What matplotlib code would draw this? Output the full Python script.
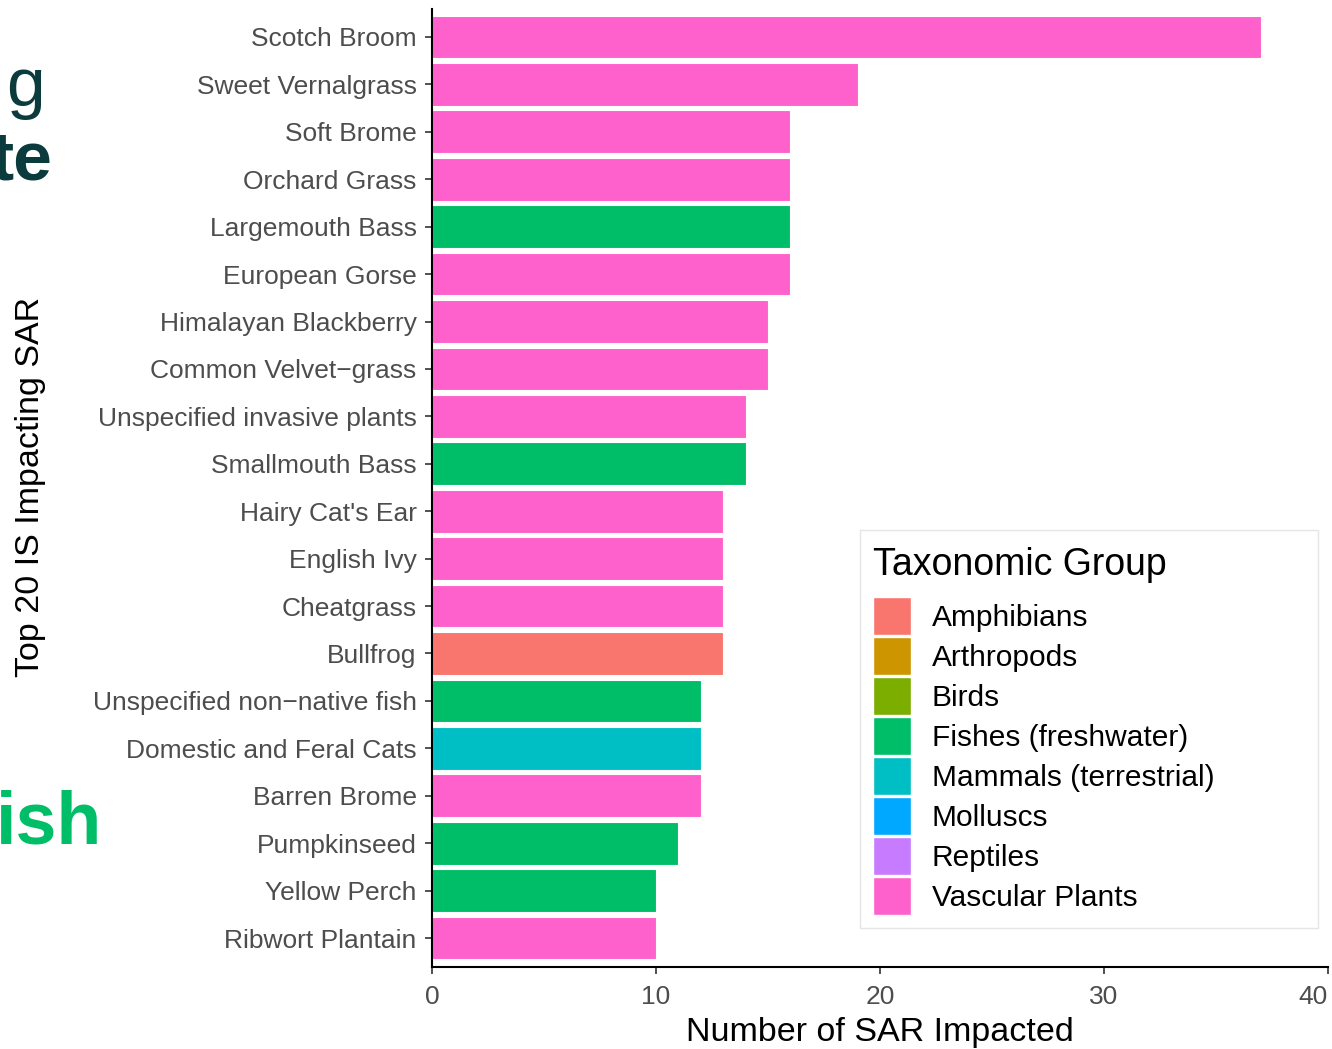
import matplotlib.pyplot as plt
from matplotlib.patches import Patch, Rectangle

plt.rcParams['font.family'] = ['Liberation Sans', 'DejaVu Sans']

# data, top to bottom
especies = ["Scotch Broom", "Sweet Vernalgrass", "Soft Brome", "Orchard Grass",
            "Largemouth Bass", "European Gorse", "Himalayan Blackberry",
            "Common Velvet\u2212grass", "Unspecified invasive plants", "Smallmouth Bass",
            "Hairy Cat's Ear", "English Ivy", "Cheatgrass", "Bullfrog",
            "Unspecified non\u2212native fish", "Domestic and Feral Cats", "Barren Brome",
            "Pumpkinseed", "Yellow Perch", "Ribwort Plantain"]
num_sar = [37, 19, 16, 16, 16, 16, 15, 15, 14, 14, 13, 13, 13, 13, 12, 12, 12, 11, 10, 10]
grupo = ["Vascular Plants", "Vascular Plants", "Vascular Plants", "Vascular Plants",
         "Fishes (freshwater)", "Vascular Plants", "Vascular Plants", "Vascular Plants",
         "Vascular Plants", "Fishes (freshwater)", "Vascular Plants", "Vascular Plants",
         "Vascular Plants", "Amphibians", "Fishes (freshwater)", "Mammals (terrestrial)",
         "Vascular Plants", "Fishes (freshwater)", "Fishes (freshwater)", "Vascular Plants"]

grupos = ["Amphibians", "Arthropods", "Birds", "Fishes (freshwater)",
          "Mammals (terrestrial)", "Molluscs", "Reptiles", "Vascular Plants"]
colores = ["#F8766D", "#CD9600", "#7CAE00", "#00BE67", "#00BFC4", "#00A9FF", "#C77CFF", "#FF61CC"]
col = dict(zip(grupos, colores))

W, H = 1332, 1049
fig = plt.figure(figsize=(W/100, H/100), dpi=100)
ax = fig.add_axes([432/W, 1-966.5/H, 896/W, 958/H])

n = len(especies)
ypos = [n-1-i for i in range(n)]
ax.barh(ypos, num_sar, height=0.9, color=[col[g] for g in grupo],
        edgecolor='white', linewidth=0.8)

ax.set_yticks(ypos)
ax.set_yticklabels(especies)
ax.set_ylim(-0.6, n-1+0.6)
ax.set_xlim(0, 40)
ax.set_xticks([0, 10, 20, 30, 40])
ax.tick_params(axis='both', labelsize=19, labelcolor='#4D4D4D', color='#333333',
               length=5, width=1.2)
ax.tick_params(axis='y', pad=6)
ax.tick_params(axis='x', pad=8)
for s in ['top', 'right']:
    ax.spines[s].set_visible(False)
for s in ['left', 'bottom']:
    ax.spines[s].set_linewidth(1.5)
ax.get_xticklabels()[-1].set_ha('right')
ax.set_xlabel("Number of SAR Impacted", fontsize=24.5, color='black', labelpad=6)
ax.set_ylabel("Top 20 IS Impacting SAR", fontsize=24.5, color='black')
ax.yaxis.set_label_coords(46/W, 1-487/H, transform=fig.transFigure)

# legend: frame drawn by hand, title as text, entries as figure legend
fig.patches.append(Rectangle((860/W, 1-928/H), 458/W, 398/H, transform=fig.transFigure,
                             facecolor='white', edgecolor='#E5E5E5', linewidth=1, zorder=3))
fig.text(873/W, 1-575/H, "Taxonomic Group", fontsize=27, color='black',
         ha='left', va='baseline', zorder=4)
handles = [Patch(facecolor=col[g], edgecolor='white', label=g) for g in grupos]
leg = fig.legend(handles=handles, loc='upper left',
                 bbox_to_anchor=(873/W, 1-597/H), bbox_transform=fig.transFigure,
                 fontsize=21.5, frameon=False,
                 handlelength=1.27, handleheight=1.581, handletextpad=0.7,
                 labelspacing=0.067, borderpad=0, borderaxespad=0)
leg.set_zorder(5)

# clipped texts from the page behind the chart
fig.text(45/W, 1-106/H, "g", fontsize=50, color='#0B3B3C', ha='right', va='baseline')
fig.text(52/W, 1-180/H, "te", fontsize=50, color='#0B3B3C', fontweight='bold',
         ha='right', va='baseline')
fig.text(102/W, 1-843/H, "ish", fontsize=53, color='#00BE67', fontweight='bold',
         ha='right', va='baseline')

fig.savefig('out.png', dpi=100)
